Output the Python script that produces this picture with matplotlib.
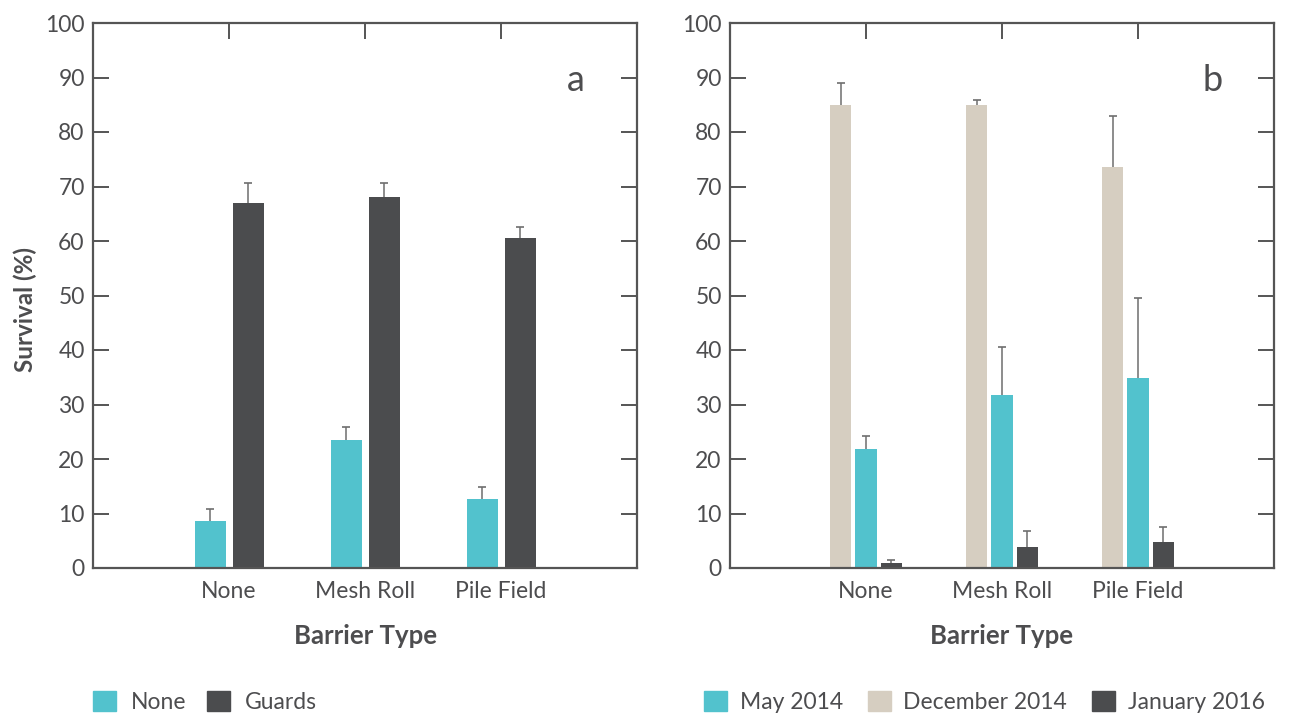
import matplotlib
matplotlib.use("Agg")
import matplotlib.pyplot as plt
import numpy as np
from matplotlib.patches import Patch

plt.rcParams['font.family'] = ['Lato', 'DejaVu Sans']

# ---- data ----
categories = ["None", "Mesh Roll", "Pile Field"]

# panel a
a_none_vals = [8.6, 23.5, 12.7]
a_none_err = [2.2, 2.3, 2.2]
a_guard_vals = [67.0, 68.1, 60.5]
a_guard_err = [3.6, 2.5, 2.1]

# panel b
b_dec14_vals = [85.0, 85.0, 73.6]
b_dec14_err = [3.9, 0.9, 9.3]
b_may14_vals = [21.8, 31.7, 34.9]
b_may14_err = [2.4, 8.8, 14.6]
b_jan16_vals = [0.9, 3.8, 4.8]
b_jan16_err = [0.5, 3.0, 2.8]

yticks = list(range(0, 101, 10))

# ---- style ----
CYAN = "#52C2CD"
DARK = "#4B4C4E"
BEIGE = "#D6CEC1"
TXT = "#4D4D4F"
SPINE = "#555555"
ERR = "#6E6E6E"

W, H = 1300, 717
fig = plt.figure(figsize=(W / 100, H / 100), dpi=100)

def px_axes(l, r, t, b):
    return fig.add_axes([l / W, (H - b) / H, (r - l) / W, (b - t) / H])

ax_a = px_axes(93, 637, 23, 568)
ax_b = px_axes(730, 1274, 23, 568)

x = np.arange(1, len(categories) + 1)
ekw = dict(ecolor=ERR, elinewidth=1.1, capsize=0, zorder=1)

def bars(ax, pos, vals, errs, width, color):
    ax.bar(pos, vals, width, color=color, yerr=[np.zeros(len(errs)), errs],
           error_kw=ekw, zorder=2)
    # upper cap only
    ax.plot(pos, np.add(vals, errs), linestyle='none', marker='_',
            markersize=5.5, markeredgewidth=1.2, color=ERR, zorder=1)

# panel a bars
wa = 0.228
bars(ax_a, x - 0.138, a_none_vals, a_none_err, wa, CYAN)
bars(ax_a, x + 0.141, a_guard_vals, a_guard_err, wa, DARK)

# panel b bars
wb = 0.155
step = 0.186
bars(ax_b, x - step, b_dec14_vals, b_dec14_err, wb, BEIGE)
bars(ax_b, x, b_may14_vals, b_may14_err, wb, CYAN)
bars(ax_b, x + step, b_jan16_vals, b_jan16_err, wb, DARK)

for ax, letter in ((ax_a, "a"), (ax_b, "b")):
    ax.set_xlim(0, 4)
    ax.set_ylim(0, 100)
    ax.set_yticks(yticks)
    ax.set_xticks(x)
    ax.set_xticklabels(categories)
    for s in ax.spines.values():
        s.set_color(SPINE)
        s.set_linewidth(1.6)
        s.set_zorder(3)
    ax.tick_params(axis='y', direction='in', length=11.5, width=1.4,
                   color=SPINE, left=True, right=True, labelsize=16.5,
                   labelcolor=TXT, pad=6)
    ax.tick_params(axis='x', direction='in', length=11.5, width=1.4,
                   color=SPINE, bottom=False, top=True, labelsize=16.5,
                   labelcolor=TXT, pad=9)
    ax.set_xlabel("Barrier Type", fontsize=18.5, fontweight='bold',
                  color=TXT, labelpad=16)
    ax.text(0.887, 0.895, letter, transform=ax.transAxes, fontsize=26,
            color=TXT, ha='center', va='center')

ax_a.set_ylabel("Survival (%)", fontsize=17.5, fontweight='bold', color=TXT)
ax_a.yaxis.set_label_coords(-0.102, 0.475)

# legends
leg_kw = dict(loc='center left', frameon=False, fontsize=16.5,
              handlelength=1.0, handleheight=1.0, borderpad=0,
              borderaxespad=0, labelcolor=TXT)
fig.legend(handles=[Patch(color=CYAN, label="None"),
                    Patch(color=DARK, label="Guards")],
           bbox_to_anchor=(93 / W, (H - 702) / H), ncol=2,
           handletextpad=0.65, columnspacing=0.9, **leg_kw)
fig.legend(handles=[Patch(color=CYAN, label="May 2014"),
                    Patch(color=BEIGE, label="December 2014"),
                    Patch(color=DARK, label="January 2016")],
           bbox_to_anchor=(704 / W, (H - 702) / H), ncol=3,
           handletextpad=0.55, columnspacing=1.1, **leg_kw)

fig.savefig("out.png", dpi=100)
